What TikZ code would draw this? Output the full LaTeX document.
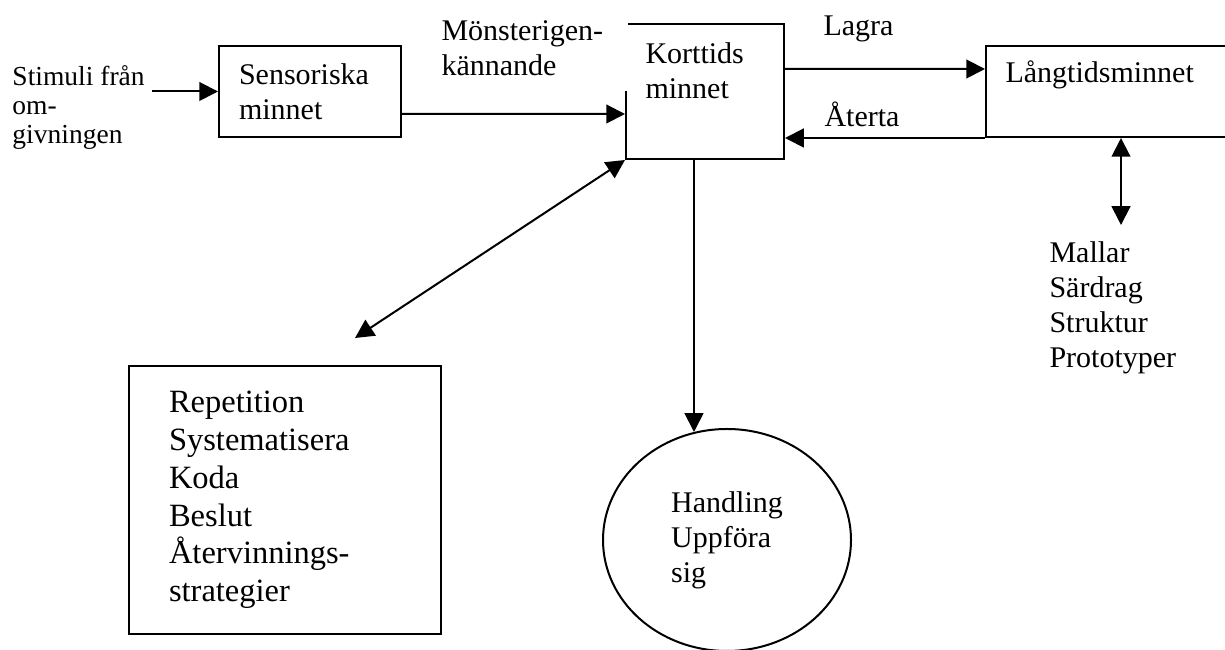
\documentclass[tikz,border=0pt]{standalone}
\usepackage{fontspec}
\setmainfont{Liberation Serif}
\usetikzlibrary{arrows.meta,shapes.geometric}
\tikzset{
    box/.style={draw, line width=0.8pt, inner sep=0pt},
    txt/.style={align=left, inner sep=0pt, font=\fontsize{12}{14}\selectfont},
    pil/.style={line width=0.8pt, -{Triangle[length=7.5pt,width=7.5pt]}},
    dpil/.style={line width=0.8pt, {Triangle[length=7.5pt,width=7.5pt]}-{Triangle[length=7.5pt,width=7.5pt]}},
}

\begin{document}
\begin{tikzpicture}[x=0.4pt, y=-0.4pt]
        \useasboundingbox (0,0) rectangle (1225,650);
        %boxes
            \node[box, anchor=north west, minimum width=72.8pt, minimum height=36.4pt, inner xsep=8pt, text width=56.8pt, align=left, font=\fontsize{12}{14}\selectfont] (sensoriska) at (218,45) {Sensoriska\\minnet};
            \node[box, anchor=north west, minimum width=63.2pt, minimum height=54pt] (korttids) at (625,23) {};
            \node[box, anchor=north west, minimum width=104pt, minimum height=36.4pt] (langtids) at (985,45) {};
            \node[box, anchor=north west, minimum width=124.8pt, minimum height=107.2pt, inner xsep=16pt, text width=92.8pt, align=left, font=\fontsize{13}{15.1}\selectfont] (strategier) at (128,365) {Repetition\\Systematisera\\Koda\\Beslut\\Återvinnings-\\strategier};
        %circle
            \node[box, ellipse, minimum width=99.2pt, minimum height=88.8pt, align=left, font=\fontsize{12}{14}\selectfont] (handling) at (727,540) {Handling\\Uppföra\\sig};
        %nodes
            \node[txt, anchor=north west, font=\fontsize{11}{11.6}\selectfont] (stimuli) at (12,65) {Stimuli från\\om-\\givningen};
            \node[txt, fill=white, anchor=north west, inner xsep=2pt, text width=72.4pt, minimum height=34.4pt] (monster) at (436,5) {Mönsterigen-\\kännande};
            \node[txt, anchor=north west] (korttext) at (645,42.5) {Korttids\\minnet};
            \node[txt, anchor=base west] (lagra) at (823,36) {Lagra};
            \node[txt, anchor=base west] (aterta) at (824,127) {Återta};
            \node[txt, anchor=base west] (langtext) at (1005,83) {Långtidsminnet};
            \node[txt, anchor=north west] (mallar) at (1049,241.5) {Mallar\\Särdrag\\Struktur\\Prototyper};
            \coordinate (mallpil) at (1121,225);
            \coordinate (strategipil) at (355,338);
        % arrows
            \draw[pil] ([xshift=2.8pt]stimuli.north east |- sensoriska.west) -- (sensoriska.west);
            \draw[pil] ([yshift=-9pt]sensoriska.east) -- ([yshift=-9pt]korttids.west);
            \draw[pil] ([yshift=9pt]korttids.east) -- ([yshift=9pt]langtids.west);
            \draw[pil] (langtids.south west) -- (langtids.south west -| korttids.east);
            \draw[dpil] (langtids.south -| mallpil) -- (mallpil);
            \draw[dpil] (korttids.south west) -- (strategipil);
            \draw[pil] (korttids.south -| handling.107.7) -- (handling.107.7);
    \end{tikzpicture}
\end{document}
